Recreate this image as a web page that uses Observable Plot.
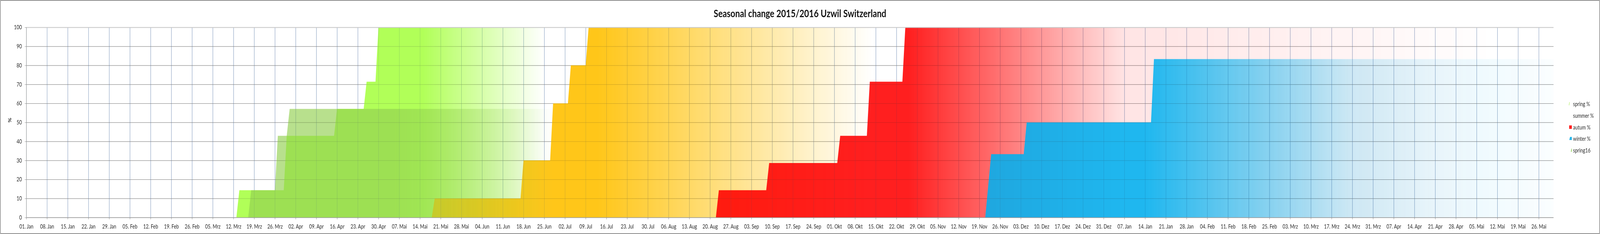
<!DOCTYPE html>
<html>
<head>
<meta charset="utf-8">
<script src="https://cdn.jsdelivr.net/npm/d3@7"></script>
<script src="https://cdn.jsdelivr.net/npm/@observablehq/plot@0.6"></script>
<style>
  html, body { margin: 0; padding: 0; background: #fff; overflow: hidden; }
  #wrap { position: relative; width: 5287px; height: 600px; overflow: hidden; font-family: Lato, "Open Sans", sans-serif; color: #262626; transform-origin: 0 0; }
  #title { height: 68px; line-height: 68px; text-align: center; font-weight: bold; font-size: 27px; color: #111; white-space: nowrap; }
  #title span { display: inline-block; }
  #chart { position: relative; width: 5287px; height: 532px; }
  #chart svg { display: block; overflow: visible; }
  #chart svg.layer { position: absolute; left: 0; top: 0; }
  #legend { position: absolute; left: 5183px; top: 0; width: 100px; height: 600px; font-size: 15px; }
  .lg-row { position: absolute; left: 0; height: 18px; line-height: 18px; white-space: nowrap; }
  .lg-row svg { position: absolute; left: 0; top: 4px; }
  .lg-row span { position: absolute; left: 15px; top: 0; }
  #border { position: absolute; left: 0; top: 0; width: 5287px; height: 600px; box-sizing: border-box; border: 2px solid #8c8c8c; border-radius: 3px; pointer-events: none; }
</style>
</head>
<body>
<div id="wrap">
  <div id="title"><span>Seasonal change 2015/2016 Uzwil Switzerland</span></div>
  <div id="chart"></div>
  <div id="legend"></div>
  <div id="border"></div>
</div>
<script>
// ---------- data ----------
const monthNames = ["Jan","Feb","Mrz","Apr","Mai","Jun","Jul","Aug","Sep","Okt","Nov","Dez"];
const seriesNames = ["spring %","summer %","autum %","winter %","spring16"];

const springDates = ["2015-03-13","2015-03-14","2015-03-29","2015-03-30","2015-04-15","2015-04-16","2015-04-25","2015-04-26","2015-04-29","2015-04-30","2015-07-10"];
const springValues = [0,14.3,14.3,42.9,42.9,57.1,57.1,71.4,71.4,100,100];

const summerDates = ["2015-05-18","2015-05-19","2015-06-17","2015-06-18","2015-06-27","2015-06-28","2015-07-03","2015-07-04","2015-07-09","2015-07-10","2015-10-25"];
const summerValues = [0,10,10,30,30,60,60,80,80,100,100];

const autumnDates = ["2015-08-22","2015-08-23","2015-09-08","2015-09-09","2015-10-02","2015-10-03","2015-10-12","2015-10-13","2015-10-24","2015-10-25","2016-05-31"];
const autumnValues = [0,14.3,14.3,28.6,28.6,42.9,42.9,71.4,71.4,100,100];

const winterDates = ["2015-11-21","2015-11-23","2015-12-04","2015-12-05","2016-01-16","2016-01-17","2016-05-31"];
const winterValues = [0,33.3,33.3,50,50,83.3,83.3];

const spring16Dates = ["2015-03-17","2015-03-18","2015-03-26","2015-03-27","2015-03-30","2015-03-31","2015-07-10"];
const spring16Values = [0,14.3,14.3,42.9,42.9,57.1,57.1];

const yTicks = [0,10,20,30,40,50,60,70,80,90,100];
const xDomain = ["2015-01-01","2016-05-31"];
const firstTick = "2015-01-01";
const lastTick = "2016-05-26";

// ---------- styles ----------
const seriesColors = ["#a8ff46","#ffc000","#ff0000","#00b0f0","#92d050"];
const seriesOpacity = [0.9, 0.9, 0.88, 0.88, 0.65];
const springFade = [["2015-05-15",1],["2015-06-25",0]];
const summerFade = [["2015-07-13",1],["2015-10-14",0]];
const autumnFade = [["2015-10-26",1],["2016-01-07",0.12],["2016-04-21",0.02],["2016-05-10",0]];
const winterFade = [["2016-01-14",1],["2016-03-24",0.22],["2016-04-21",0.1],["2016-05-31",0.02]];
const spring16Fade = [["2015-05-05",1],["2015-06-28",0]];

const W = 5287, H = 532;
const toRows = (dates, values) => dates.map((d, i) => ({date: new Date(d), value: values[i]}));
const series = [
  {id: "spring", rows: toRows(springDates, springValues), fade: springFade},
  {id: "summer", rows: toRows(summerDates, summerValues), fade: summerFade},
  {id: "autumn", rows: toRows(autumnDates, autumnValues), fade: autumnFade},
  {id: "winter", rows: toRows(winterDates, winterValues), fade: winterFade},
  {id: "spring16", rows: toRows(spring16Dates, spring16Values), fade: spring16Fade}
];
const xTicks = d3.utcThursday.range(new Date(firstTick), d3.utcDay.offset(new Date(lastTick), 1));
const fmt = d => String(d.getUTCDate()).padStart(2, "0") + ". " + monthNames[d.getUTCMonth()];

const vGrid = "#8aa4c8", hGrid = "#8c8c8c";
const base = {
  width: W, height: H,
  marginTop: 2, marginBottom: 42.5, marginLeft: 86.7, marginRight: 153.5,
  style: {fontFamily: "Lato, 'Open Sans', sans-serif", fontSize: "15px", color: "#262626", background: "transparent", overflow: "visible"},
  x: {type: "utc", domain: xDomain.map(d => new Date(d)), axis: null},
  y: {domain: [0, 100], axis: null}
};
const holder = document.getElementById("chart");

// 1. grid underneath
const gridPlot = Plot.plot({...base, marks: [
  Plot.ruleX(xTicks, {stroke: vGrid, strokeWidth: 1}),
  Plot.ruleY(yTicks.filter(v => v < 100), {stroke: hGrid, strokeWidth: 1.2})
]});
holder.appendChild(gridPlot);
const xs = gridPlot.scale("x");

// 2. one layer per series, faded with a horizontal mask
series.forEach((s, i) => {
  const layer = Plot.plot({...base, marks: [
    Plot.areaY(s.rows, {x: "date", y: "value", curve: "linear", fill: seriesColors[i], fillOpacity: seriesOpacity[i]})
  ]});
  layer.classList.add("layer");
  const stops = s.fade.map(([d, o]) => `rgba(0,0,0,${o}) ${(xs.apply(new Date(d)) / W * 100).toFixed(3)}%`).join(", ");
  const mask = `linear-gradient(to right, ${stops})`;
  layer.style.webkitMaskImage = mask;
  layer.style.maskImage = mask;
  holder.appendChild(layer);
});

// 3. grid shimmer, frame and axes on top
const topPlot = Plot.plot({...base, marks: [
  Plot.ruleX(xTicks, {stroke: "#5a6f8c", strokeWidth: 1, strokeOpacity: 0.22}),
  Plot.ruleY(yTicks.filter(v => v > 0 && v < 100), {stroke: "#555", strokeWidth: 1.2, strokeOpacity: 0.22}),
  Plot.ruleY([100], {stroke: "#c6c6c6", strokeWidth: 2}),
  Plot.ruleY([0], {stroke: hGrid, strokeWidth: 1.2}),
  Plot.ruleX([new Date(xDomain[0])], {stroke: hGrid, strokeWidth: 1.2}),
  Plot.axisX(xTicks, {tickFormat: fmt, tickSize: 5, tickPadding: 12, stroke: hGrid, label: null, fontSize: 15}),
  Plot.axisY(yTicks, {tickSize: 5, tickPadding: 10, stroke: hGrid, label: null, fontSize: 15}),
  Plot.text(["%"], {frameAnchor: "left", dx: -55, rotate: -90, fontWeight: "bold", fontSize: 15, fill: "#262626"})
]});
topPlot.classList.add("layer");
holder.appendChild(topPlot);

// title fit to reference width
const tspan = document.querySelector("#title span");
const tw = tspan.offsetWidth;
if (tw > 0) document.getElementById("title").style.fontSize = (27 * 570 / tw).toFixed(2) + "px";

// legend
const legendCenters = [266, 295.7, 325.5, 355.2, 385];
const glyphs = [
  {pts: "1,9 2.5,1 4,1 2.6,9", fill: "#b8f070"},
  {pts: "", fill: "none"},
  {pts: "2,0.5 11,0.5 11,9.5 2,9.5", fill: "#ff2020"},
  {pts: "2.5,9 5,1 11,1 11,9", fill: "#29b6ea"},
  {pts: "7.5,9 9.5,1 11,1 11,9", fill: "#a0d870"}
];
const legend = document.getElementById("legend");
seriesNames.forEach((name, i) => {
  const row = document.createElement("div");
  row.className = "lg-row";
  row.style.top = (legendCenters[i] - 9) + "px";
  row.innerHTML = `<svg width="12" height="10" viewBox="0 0 12 10">${glyphs[i].pts ? `<polygon points="${glyphs[i].pts}" fill="${glyphs[i].fill}"/>` : ""}</svg><span>${name}</span>`;
  legend.appendChild(row);
});

// fit the 5287px-wide layout into the actual window width
const fit = () => {
  const k = Math.min(1, window.innerWidth / W);
  document.getElementById("wrap").style.transform = `scale(${k}, 1)`;
};
fit();
window.addEventListener("resize", fit);
</script>
</body>
</html>
